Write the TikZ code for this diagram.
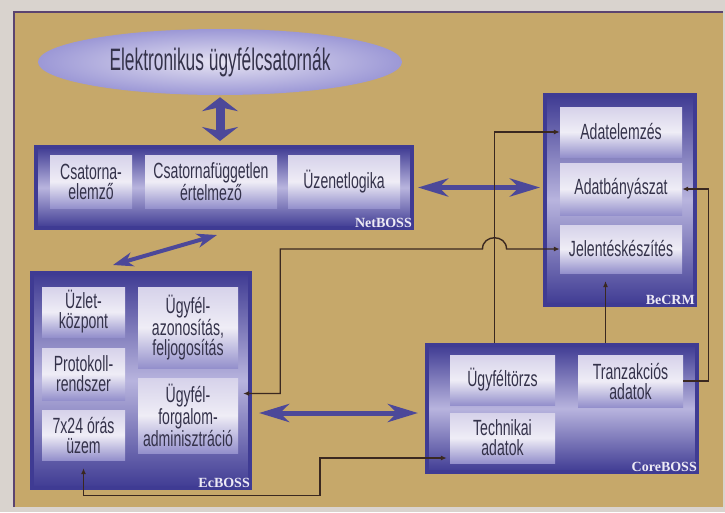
\documentclass[tikz,border=0pt]{standalone}
\usepackage{fontspec}
\setmainfont{Liberation Sans}[FakeStretch=0.64]
\newfontfamily\chanfont{Liberation Sans}[FakeStretch=0.56]
\newfontfamily\labelfont{Liberation Serif}
\usepackage{tikz}
\usetikzlibrary{shapes.geometric}
\usetikzlibrary{arrows.meta}
\usetikzlibrary{calc}
\definecolor{pagegray}{HTML}{D9D3CE}
\definecolor{bgtan}{HTML}{C6A86A}
\definecolor{framepurple}{HTML}{5B4470}
\definecolor{boxdark}{HTML}{3F3B93}
\definecolor{boxmid}{HTML}{B8B4DE}
\definecolor{subtop}{HTML}{D6D2EA}
\definecolor{sublight}{HTML}{EFEDF6}
\definecolor{subbot}{HTML}{9490CC}
\definecolor{inktext}{HTML}{34324A}
\definecolor{labelwhite}{HTML}{EDEAF5}
\definecolor{arrowblue}{HTML}{4C4899}
\definecolor{wire}{HTML}{3A2820}
\definecolor{ellight}{HTML}{E6E3F2}
\definecolor{eldark}{HTML}{9C98D6}

\begin{document}
\begin{tikzpicture}[x=1pt, y=-1pt,
            chanell/.style={ellipse, inner sep=0pt, inner color=ellight, outer color=eldark,
                text=inktext, font=\chanfont\fontsize{31}{31}\selectfont},
            outerbox/.style={rectangle, draw=boxdark, line width=4pt,
                top color=boxdark, bottom color=boxdark, middle color=boxmid},
            subbox/.style={rectangle, inner sep=2pt, align=center, text=inktext,
                top color=subtop, bottom color=subbot, middle color=sublight,
                font=\fontsize{22}{20}\selectfont},
            boxlabel/.style={anchor=south east, inner sep=2pt, text=labelwhite,
                font=\labelfont\bfseries\fontsize{14}{14}\selectfont},
            fatarrow/.style={draw=arrowblue, line width=9pt,
                {Stealth[length=14pt,width=36pt,inset=4pt]}-{Stealth[length=14pt,width=36pt,inset=4pt]}},
            longarrow/.style={draw=arrowblue, line width=5pt,
                {Stealth[length=30pt,width=18pt,inset=9pt]}-{Stealth[length=30pt,width=18pt,inset=9pt]}},
            slantarrow/.style={draw=arrowblue, line width=4pt,
                {Stealth[length=20pt,width=14pt,inset=6pt]}-{Stealth[length=20pt,width=14pt,inset=6pt]}},
            conn/.style={draw=wire, line width=1.4pt},
            tip/.style={-{Latex[length=6pt,width=5pt]}},
            tips/.style={{Latex[length=6pt,width=5pt]}-{Latex[length=6pt,width=5pt]}}
        ]
        \useasboundingbox (0,0) rectangle (725,512);
        \fill[pagegray] (0,0) rectangle (725,512);
        \fill[bgtan] (14,12) rectangle (723,507);
        \draw[framepurple, line width=1.5pt] (14,507) -- (14,12) -- (723,12);

        \node[chanell, minimum width=364pt, minimum height=66pt] (chan) at (220,62) {Elektronikus ügyfélcsatornák};

        % the four systems
        \node[outerbox, minimum width=376pt, minimum height=81pt] (net) at (224,187.5) {};
        \node[outerbox, minimum width=150pt, minimum height=210pt] (becrm) at (620,200) {};
        \node[outerbox, minimum width=218pt, minimum height=215pt] (ecboss) at (141,380.5) {};
        \node[outerbox, minimum width=270pt, minimum height=127pt] (core) at (562,408.5) {};

        \node[subbox, minimum width=82pt, minimum height=53pt] (csel) at (91,181.5) {Csatorna-\\elemző};
        \node[subbox, minimum width=132pt, minimum height=53pt] (csfe) at (211,181.5) {Csatornafüggetlen\\értelmező};
        \node[subbox, minimum width=112pt, minimum height=53pt] (uzen) at (344,181.5) {Üzenetlogika};

        \node[subbox, minimum width=122pt, minimum height=50pt] (adel) at (621,132) {Adatelemzés};
        \node[subbox, minimum width=122pt, minimum height=52pt] (adba) at (621,189) {Adatbányászat};
        \node[subbox, minimum width=122pt, minimum height=48pt] (jel) at (621,249) {Jelentéskészítés};

        \node[subbox, minimum width=83pt, minimum height=50pt] (uzlet) at (83.5,312) {Üzlet-\\központ};
        \node[subbox, minimum width=83pt, minimum height=52pt] (prot) at (83.5,374) {Protokoll-\\rendszer};
        \node[subbox, minimum width=83pt, minimum height=50pt] (hetnap) at (83.5,435) {7x24 órás\\üzem};
        \node[subbox, minimum width=100pt, minimum height=81pt] (azon) at (188,327.5) {Ügyfél-\\azonosítás,\\feljogosítás};
        \node[subbox, minimum width=100pt, minimum height=75pt] (forg) at (188,415.5) {Ügyfél-\\forgalom-\\adminisztráció};

        \node[subbox, minimum width=105pt, minimum height=50pt] (torzs) at (502.5,380) {Ügyféltörzs};
        \node[subbox, minimum width=105pt, minimum height=50pt] (tech) at (502.5,438) {Technikai\\adatok};
        \node[subbox, minimum width=105pt, minimum height=52pt] (tranz) at (630.5,381) {Tranzakciós\\adatok};

        \node[boxlabel] (netlbl) at (net.south east) {NetBOSS};
        \node[boxlabel] (becrmlbl) at (becrm.south east) {BeCRM};
        \node[boxlabel] (eclbl) at (ecboss.south east) {EcBOSS};
        \node[boxlabel] (corelbl) at (core.south east) {CoreBOSS};

        % thick arrows
        \draw[fatarrow, shorten <=2pt, shorten >=4pt] (chan.south) -- (chan.south |- net.north);
        \draw[slantarrow] ([xshift=-28pt,yshift=6pt]ecboss.north) -- ([xshift=-7pt,yshift=-5pt]net.south);
        \draw[longarrow, shorten <=4pt, shorten >=3pt] (net.east) -- (net.east -| becrm.west);
        \path ([yshift=-4.5pt]core.west) coordinate (c1);
        \draw[longarrow, shorten <=7pt, shorten >=7pt] (c1 -| ecboss.east) -- (c1);

        % thin connectors
        \path ([xshift=-8pt]torzs.north) coordinate (t1);
        \path (t1 |- jel.west) coordinate (hop);
        \path ([xshift=5pt,yshift=22pt]forg.east) coordinate (f1);
        \path ([xshift=-25pt]tranz.north) coordinate (t2);
        \path ([xshift=-3pt,yshift=-20pt]tech.west) coordinate (t3);
        \draw[conn, tip] (t1 |- core.north) |- (adel.west);
        \draw[conn, tips] (f1) -- ++(37,0) |- ([xshift=-12pt]hop)
            .. controls +(0,-15) and +(0,-15) .. ([xshift=12pt]hop) -- (jel.west);
        \draw[conn, tip] (t2 |- core.north) -- ++(0,-62);
        \draw[conn, tip] (tranz.east) -- ++(25,0) |- (adba.east);
        \draw[conn, tips] ([yshift=-8pt]hetnap.south) -- ++(0,27) -- ++(236.5,0) |- (t3);
\end{tikzpicture}
\end{document}
